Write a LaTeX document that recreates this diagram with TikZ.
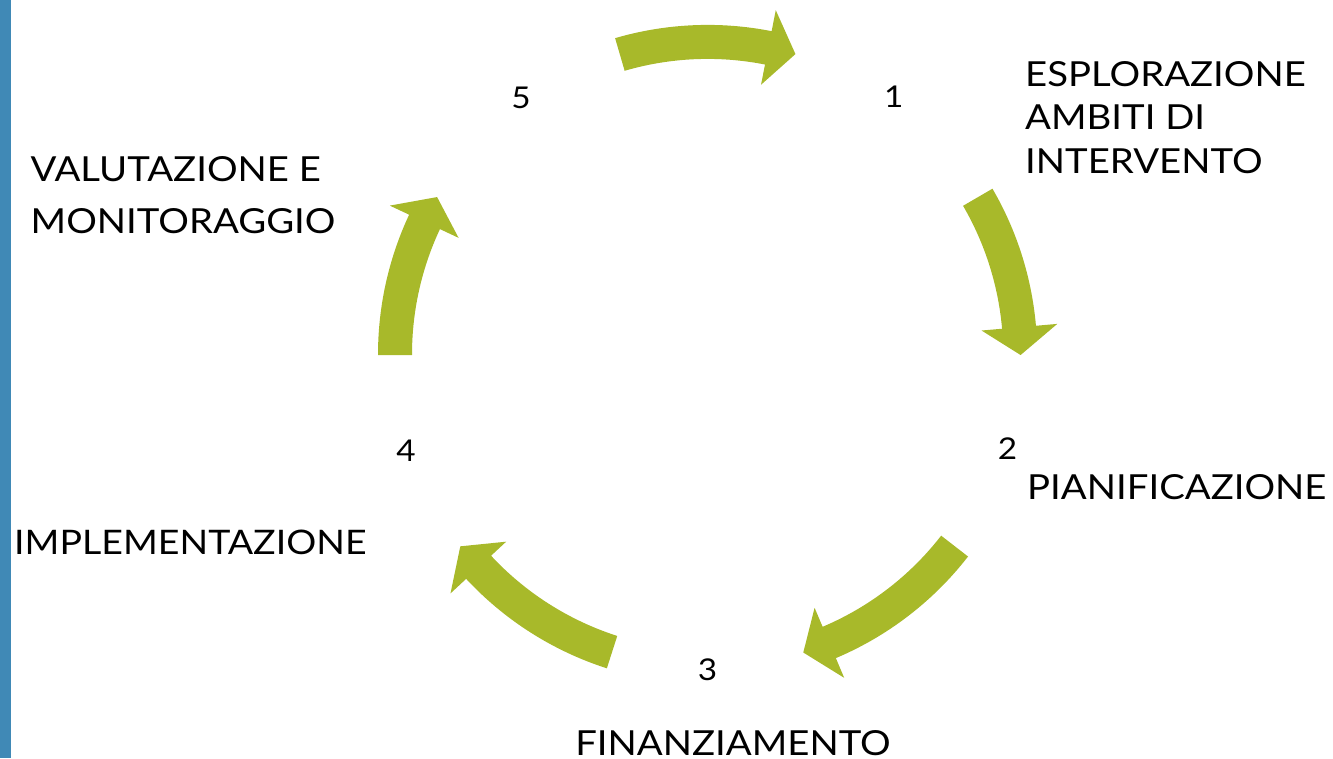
\documentclass[tikz,border=0pt]{standalone}
\usepackage{fontspec}
\setmainfont[FakeStretch=1.11]{Lato}
\definecolor{cyclegreen}{RGB}{168,185,42}
\definecolor{barblue}{RGB}{64,137,182}
\begin{document}
\begin{tikzpicture}[x=1pt,y=1pt,
  lbl/.style={font=\fontsize{34.5}{43.3}\selectfont, inner sep=0pt, align=left, anchor=base west},
  num/.style={font=\fontsize{30}{30}\selectfont, inner sep=0pt, anchor=base},
  cyc/.style={fill=cyclegreen, draw=none}]
\useasboundingbox (0,0) rectangle (1333,758);
\fill[barblue] (0,0) rectangle (11,758);
\coordinate (C) at (707.6,403.5);
\begin{scope}[shift={(C)}]
\foreach \a/\b in {106.3/73.7, 30.2/-0.1, -37.8/-72.2, -107.8/-142.2, 180.1/149.8}{
  \pgfmathsetmacro\h{\b+5.1}
  \fill[cyc] (\a:329.6) arc[start angle=\a, end angle=\h, radius=329.6] -- (\h:351) -- (\b:313) -- (\h:275) -- (\h:295.6) arc[start angle=\h, end angle=\a, radius=295.6] -- cycle;
}
\end{scope}
\node[num] (n1) at (893.7,650.3) {1};
\node[num] (n2) at (1007.5,298) {2};
\node[num] (n3) at (707.5,78) {3};
\node[num] (n4) at (406,296) {4};
\node[num] (n5) at (521,649.7) {5};
\node[lbl] (l1) at (1025,584.7) {ESPLORAZIONE\\AMBITI DI\\INTERVENTO};
\node[lbl] (l2) at (1027,258) {PIANIFICAZIONE};
\node[lbl, anchor=base] (l3) at (733,2.5) {FINANZIAMENTO};
\node[lbl, font=\fontsize{33.8}{43.3}\selectfont] (l4) at (14,203) {IMPLEMENTAZIONE};
\node[lbl, font=\fontsize{34.5}{51.7}\selectfont] (l5) at (30.5,524.7) {VALUTAZIONE E\\MONITORAGGIO};
\end{tikzpicture}
\end{document}
